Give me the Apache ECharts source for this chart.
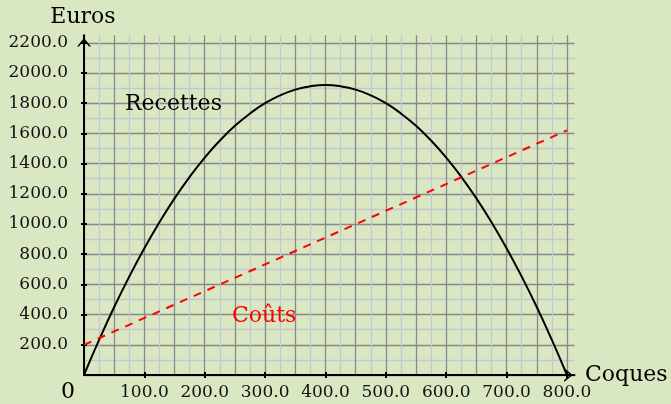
<!DOCTYPE html>
<html><head><meta charset="utf-8">
<script src="https://cdn.jsdelivr.net/npm/echarts@6/dist/echarts.min.js"></script>
<style>html,body{margin:0;padding:0;background:#d9e8c3}#c{width:671px;height:404px}</style>
</head><body><div id="c"></div>
<script>
// Data
const recettesX = [0,25,50,75,100,125,150,175,200,225,250,275,300,325,350,375,400,425,450,475,500,525,550,575,600,625,650,675,700,725,750,775,800];
const recettesY = [0,232,450,652,840,1012,1170,1312,1440,1552,1650,1732,1800,1852,1890,1912,1920,1912,1890,1852,1800,1732,1650,1552,1440,1312,1170,1012,840,652,450,232,0];
const coutsX = [0,800];
const coutsY = [200,1620];
const xTicks = [100,200,300,400,500,600,700,800];
const yTicks = [200,400,600,800,1000,1200,1400,1600,1800,2000,2200];

const FONT = '"DejaVu Serif", serif';
const DARK = '#888888', LIGHT = '#c5c7ce';
const arrowPath = 'path://M0,80 L65,0 L130,80 L112,80 L65,22 L18,80 Z';

const chart = echarts.init(document.getElementById('c'));
const gridPos = {left:84, right:96.5, top:35.25, bottom:29};
const xBase = {type:'value', min:0, max:812.5, position:'bottom', axisLine:{show:false,onZero:false}, axisTick:{show:false}, axisLabel:{show:false}, splitLine:{show:false}};
const yBase = {type:'value', min:0, max:2250, position:'left', axisLine:{show:false,onZero:false}, axisTick:{show:false}, axisLabel:{show:false}, splitLine:{show:false}};

chart.setOption({
  backgroundColor:'#d9e8c3',
  animation:false,
  grid:gridPos,
  xAxis:[
    Object.assign({}, xBase, {interval:25, splitLine:{show:true, showMaxLine:false, lineStyle:{color:[DARK, LIGHT], width:1.3}}}),
    Object.assign({}, xBase, {interval:100,
      axisLine:{show:true, onZero:false, lineStyle:{color:'#000', width:2}, symbol:['none', arrowPath], symbolSize:[14,9], symbolOffset:[0,-6]},
      axisTick:{show:true, customValues:xTicks, length:3, lineStyle:{color:'#000', width:2}},
      axisLabel:{show:true, customValues:xTicks, margin:9, color:'#111', fontFamily:FONT, fontSize:17, formatter:v=>v.toFixed(1)}}),
    Object.assign({}, xBase, {interval:100,
      axisTick:{show:true, inside:true, customValues:xTicks, length:3, lineStyle:{color:'#000', width:2}}})
  ],
  yAxis:[
    Object.assign({}, yBase, {interval:100, splitLine:{show:true, showMaxLine:false, lineStyle:{color:[DARK, LIGHT], width:1.3}}}),
    Object.assign({}, yBase, {interval:200,
      axisLine:{show:true, onZero:false, lineStyle:{color:'#000', width:2}, symbol:['none', arrowPath], symbolSize:[14,9], symbolOffset:[0,-7]},
      axisTick:{show:true, customValues:yTicks, length:3, lineStyle:{color:'#000', width:2}},
      axisLabel:{show:true, customValues:yTicks, margin:16, color:'#111', fontFamily:FONT, fontSize:17, formatter:v=>v.toFixed(1)}}),
    Object.assign({}, yBase, {interval:200,
      axisTick:{show:true, inside:true, customValues:yTicks, length:3, lineStyle:{color:'#000', width:2}}})
  ],
  series:[
    {name:'Recettes', type:'line', xAxisIndex:0, yAxisIndex:0, smooth:true, showSymbol:false, symbol:'none',
     data:recettesX.map((x,i)=>[x, recettesY[i]]), lineStyle:{color:'#000', width:2}, z:5},
    {name:'Coûts', type:'line', xAxisIndex:0, yAxisIndex:0, showSymbol:false, symbol:'none',
     data:coutsX.map((x,i)=>[x, coutsY[i]]), lineStyle:{color:'#ff0000', width:2, type:[8,7]}, z:5}
  ],
  graphic:[
    {type:'text', z:100, x:83, y:17, style:{text:'Euros', font:'22px '+FONT, fill:'#000', align:'center', verticalAlign:'middle'}},
    {type:'text', z:100, x:125, y:104, style:{text:'Recettes', font:'22px '+FONT, fill:'#000', align:'left', verticalAlign:'middle'}},
    {type:'text', z:100, x:232, y:316, style:{text:'Coûts', font:'22px '+FONT, fill:'#ff0000', align:'left', verticalAlign:'middle'}},
    {type:'text', z:100, x:585, y:375, style:{text:'Coques', font:'22px '+FONT, fill:'#000', align:'left', verticalAlign:'middle'}},
    {type:'text', z:100, x:68, y:392, style:{text:'0', font:'22px '+FONT, fill:'#000', align:'center', verticalAlign:'middle'}}
  ]
});
</script></body></html>
